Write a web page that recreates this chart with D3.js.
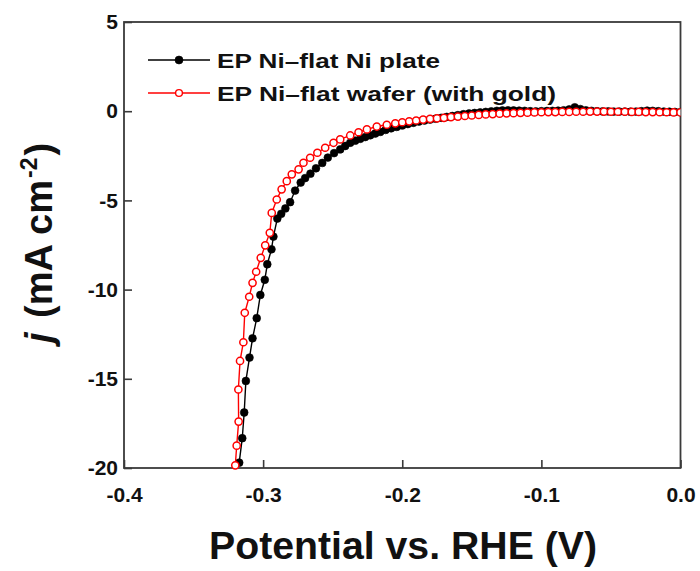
<!DOCTYPE html>
<html>
<head>
<meta charset="utf-8">
<script src="https://cdn.jsdelivr.net/npm/d3@7/dist/d3.min.js"></script>
<style>
  html, body { margin: 0; padding: 0; background: #ffffff; }
  svg { display: block; }
  text { font-family: "Liberation Sans", Arial, Helvetica, sans-serif; font-weight: bold; fill: #111; }
</style>
</head>
<body>
<svg id="chart" width="700" height="571"></svg>
<script>
// Polarization curves: current density (mA cm^-2) vs. potential (V vs. RHE)

const seriesNames = ["EP Ni\u2013flat Ni plate", "EP Ni\u2013flat wafer (with gold)"];

// EP Ni-flat on Ni plate
const platePotential = [
  -0.3172, -0.3150, -0.3136, -0.3124, -0.3098, -0.3076, -0.3046, -0.3020, -0.2988, -0.2970,
  -0.2940, -0.2926, -0.2898, -0.2870, -0.2840, -0.2806, -0.2770, -0.2730, -0.2698, -0.2660,
  -0.2620, -0.2575, -0.2535, -0.2490, -0.2446, -0.2410, -0.2374, -0.2338, -0.2302, -0.2266,
  -0.2230, -0.2194, -0.2158, -0.2120, -0.2080, -0.2040, -0.2000, -0.1960, -0.1920, -0.1880,
  -0.1840, -0.1800, -0.1760, -0.1720, -0.1680, -0.1640, -0.1600, -0.1560, -0.1520, -0.1480,
  -0.1440, -0.1400, -0.1360, -0.1320, -0.1280, -0.1240, -0.1200, -0.1160, -0.1120, -0.1080,
  -0.1040, -0.1000, -0.0960, -0.0920, -0.0880, -0.0840, -0.0800, -0.0760, -0.0720, -0.0680,
  -0.0640, -0.0600, -0.0560, -0.0520, -0.0480, -0.0440, -0.0400, -0.0360, -0.0320, -0.0280,
  -0.0240, -0.0200, -0.0160, -0.0120, -0.0080, -0.0040, 0.0000
];
const plateCurrent = [
  -19.70, -18.33, -16.89, -15.12, -13.81, -12.73, -11.60, -10.30, -9.45, -8.58,
  -7.74, -7.03, -6.02, -5.75, -5.45, -5.10, -4.45, -4.00, -3.75, -3.50,
  -3.20, -2.90, -2.60, -2.35, -2.14, -1.95, -1.77, -1.65, -1.55, -1.45,
  -1.35, -1.25, -1.16, -1.05, -0.96, -0.88, -0.80, -0.72, -0.65, -0.58,
  -0.52, -0.47, -0.42, -0.37, -0.32, -0.27, -0.22, -0.17, -0.13, -0.10,
  -0.07, -0.04, -0.01, 0.02, 0.04, 0.05, 0.04, 0.03, 0.02, 0.00,
  -0.01, 0.00, 0.01, 0.02, 0.03, 0.05, 0.10, 0.22, 0.12, 0.05,
  0.02, 0.00, -0.01, -0.01, -0.02, -0.02, -0.02, -0.03, -0.02, 0.00,
  0.03, 0.02, 0.00, -0.02, -0.03, -0.04, -0.05
];

// EP Ni-flat on wafer (with gold)
const waferPotential = [
  -0.3200, -0.3190, -0.3176, -0.3178, -0.3166, -0.3142, -0.3132, -0.3100, -0.3076, -0.3050,
  -0.3017, -0.2985, -0.2952, -0.2938, -0.2902, -0.2867, -0.2830, -0.2794, -0.2745, -0.2710,
  -0.2662, -0.2610, -0.2554, -0.2494, -0.2446, -0.2374, -0.2314, -0.2254, -0.2183, -0.2111,
  -0.2050, -0.2000, -0.1950, -0.1900, -0.1850, -0.1800, -0.1750, -0.1700, -0.1650, -0.1600,
  -0.1550, -0.1500, -0.1450, -0.1400, -0.1350, -0.1300, -0.1250, -0.1200, -0.1150, -0.1100,
  -0.1050, -0.1000, -0.0950, -0.0900, -0.0850, -0.0800, -0.0750, -0.0700, -0.0650, -0.0600,
  -0.0550, -0.0500, -0.0450, -0.0400, -0.0350, -0.0300, -0.0250, -0.0200, -0.0150, -0.0100,
  -0.0050, 0.0000
];
const waferCurrent = [
  -19.85, -18.75, -17.40, -15.60, -14.00, -12.95, -11.30, -10.40, -9.62, -9.00,
  -8.22, -7.52, -6.82, -5.70, -4.95, -4.38, -3.92, -3.54, -3.26, -2.89,
  -2.61, -2.33, -2.05, -1.77, -1.58, -1.36, -1.18, -1.02, -0.86, -0.76,
  -0.68, -0.62, -0.57, -0.52, -0.47, -0.43, -0.40, -0.37, -0.33, -0.30,
  -0.27, -0.24, -0.21, -0.18, -0.16, -0.14, -0.12, -0.11, -0.09, -0.08,
  -0.07, -0.06, -0.05, -0.05, -0.04, -0.04, -0.03, -0.03, -0.02, -0.02,
  -0.02, -0.03, -0.03, -0.03, -0.04, -0.04, -0.05, -0.05, -0.06, -0.06,
  -0.07, -0.07
];

const xTickValues = [-0.4, -0.3, -0.2, -0.1, 0.0];
const xTickLabels = ["-0.4", "-0.3", "-0.2", "-0.1", "0.0"];
const yTickValues = [-20, -15, -10, -5, 0, 5];
const yTickLabels = ["-20", "-15", "-10", "-5", "0", "5"];

const svg = d3.select("#chart");
const plot = { left: 124, right: 680.5, top: 22, bottom: 468 };

const x = d3.scaleLinear().domain([-0.4, 0.0]).range([plot.left, plot.right]);
const y = d3.scaleLinear().domain([-20, 5]).range([plot.bottom, plot.top]);

const axisColor = "#3a3a3a";

// Axes with inward ticks
const xAxis = d3.axisBottom(x)
  .tickValues(xTickValues)
  .tickFormat((d, i) => xTickLabels[i])
  .tickSize(-8)
  .tickPadding(19);
const yAxis = d3.axisLeft(y)
  .tickValues(yTickValues)
  .tickFormat((d, i) => yTickLabels[i])
  .tickSize(-8)
  .tickPadding(6);

const gx = svg.append("g").attr("transform", `translate(0,${plot.bottom})`).call(xAxis);
const gy = svg.append("g").attr("transform", `translate(${plot.left},0)`).call(yAxis);
[gx, gy].forEach(g => {
  g.select(".domain").remove();
  g.selectAll(".tick line").attr("stroke", axisColor).attr("stroke-width", 1.6);
  g.selectAll(".tick text")
    .attr("fill", "#111")
    .style("font-family", '"Liberation Sans", Arial, sans-serif')
    .style("font-weight", "bold")
    .style("font-size", "21px");
});

// Frame around plotting area
svg.append("rect")
  .attr("x", plot.left).attr("y", plot.top)
  .attr("width", plot.right - plot.left).attr("height", plot.bottom - plot.top)
  .attr("fill", "none").attr("stroke", axisColor).attr("stroke-width", 1.8);

svg.append("defs").append("clipPath").attr("id", "plot-clip")
  .append("rect")
  .attr("x", plot.left - 6).attr("y", plot.top)
  .attr("width", plot.right - plot.left + 6).attr("height", plot.bottom - plot.top + 6);

const series = [
  { name: seriesNames[0], xs: platePotential, ys: plateCurrent, color: "#000000", filled: true },
  { name: seriesNames[1], xs: waferPotential, ys: waferCurrent, color: "#ff0000", filled: false }
];

const line = d3.line().x(d => x(d[0])).y(d => y(d[1]));
const layer = svg.append("g").attr("clip-path", "url(#plot-clip)");

series.forEach(s => {
  const pts = s.xs.map((v, i) => [v, s.ys[i]]);
  const g = layer.append("g");
  g.append("path")
    .datum(pts)
    .attr("d", line)
    .attr("fill", "none")
    .attr("stroke", s.color)
    .attr("stroke-width", 1.4);
  g.selectAll("circle")
    .data(pts)
    .join("circle")
    .attr("cx", d => x(d[0]))
    .attr("cy", d => y(d[1]))
    .attr("r", s.filled ? 3.9 : 3.6)
    .attr("fill", s.filled ? s.color : "#ffffff")
    .attr("stroke", s.color)
    .attr("stroke-width", s.filled ? 0.6 : 1.5);
});

// Legend
const legend = svg.append("g");
const legendWidths = [223, 339];
series.forEach((s, i) => {
  const ly = 60 + i * 33;
  legend.append("line")
    .attr("x1", 148).attr("x2", 210).attr("y1", ly).attr("y2", ly)
    .attr("stroke", s.color).attr("stroke-width", 1.5);
  legend.append("circle")
    .attr("cx", 179).attr("cy", ly)
    .attr("r", s.filled ? 4 : 3.4)
    .attr("fill", s.filled ? s.color : "#ffffff")
    .attr("stroke", s.color).attr("stroke-width", s.filled ? 0.6 : 1.4);
  legend.append("text")
    .attr("x", 217).attr("y", ly + 7.5)
    .attr("font-size", 21)
    .attr("textLength", legendWidths[i])
    .attr("lengthAdjust", "spacingAndGlyphs")
    .text(s.name);
});

// Axis titles
svg.append("text")
  .attr("x", 403)
  .attr("y", 559)
  .attr("text-anchor", "middle")
  .attr("font-size", 39)
  .attr("textLength", 388)
  .attr("lengthAdjust", "spacingAndGlyphs")
  .text("Potential vs. RHE (V)");

const yTitle = svg.append("text")
  .attr("transform", "translate(52,243) rotate(-90)")
  .attr("text-anchor", "middle")
  .attr("font-size", 38);
yTitle.append("tspan").attr("font-style", "italic").text("j");
yTitle.append("tspan").attr("dx", 4).text(" (mA cm");
yTitle.append("tspan").attr("font-size", 23).attr("dx", 2).attr("dy", -15).text("-2");
yTitle.append("tspan").attr("dx", 2).attr("dy", 15).text(")");
</script>
</body>
</html>
